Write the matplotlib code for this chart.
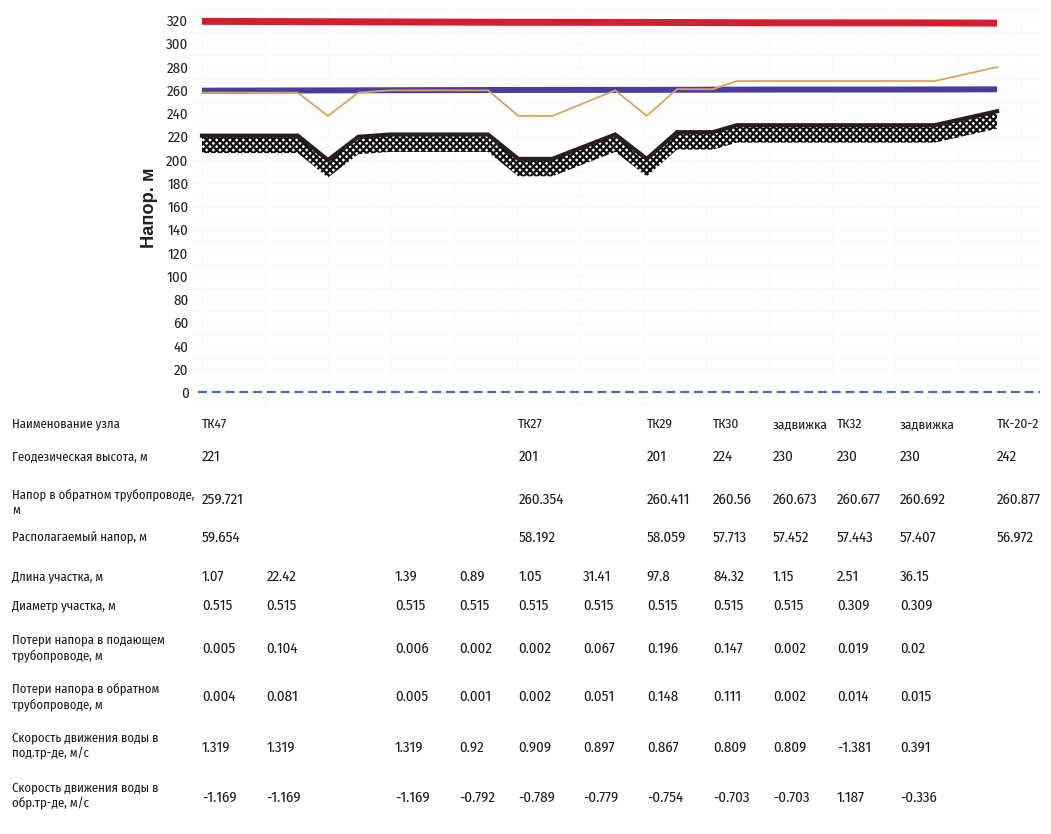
import matplotlib
matplotlib.use("Agg")
import matplotlib.pyplot as plt
import matplotlib.transforms as mtransforms
from matplotlib import font_manager
from matplotlib.ft2font import FT2Font

# ---------------- data ----------------
# profile points (x in "column units" along the route)
profile_x = [0, 1.52, 2.0, 2.48, 2.98, 4.54, 5.02, 5.56, 6.56, 7.06, 7.54, 8.11, 8.49, 11.63, 12.62]
ground_z = [221, 221, 200, 220, 222, 222, 201, 201, 222, 201, 224, 224, 230, 230, 242]
min_head = [258, 258, 238, 258, 260, 260, 238, 238, 260, 238, 261, 261, 268, 268, 280]

# nodes
node_x = [0, 5.02, 7.06, 8.11, 9.06, 10.08, 11.08, 12.62]
node_names = ["ТК47", "ТК27", "ТК29", "ТК30", "задвижка", "ТК32", "задвижка", "ТК-20-2"]
node_geo = ["221", "201", "201", "224", "230", "230", "230", "242"]
return_head = [259.721, 260.354, 260.411, 260.56, 260.673, 260.677, 260.692, 260.877]
avail_head = [59.654, 58.192, 58.059, 57.713, 57.452, 57.443, 57.407, 56.972]

# pipe sections
sect_x = [0, 1.02, 3.06, 4.08, 5.02, 6.05, 7.06, 8.11, 9.06, 10.08, 11.08]
sect_len = ["1.07", "22.42", "1.39", "0.89", "1.05", "31.41", "97.8", "84.32", "1.15", "2.51", "36.15"]
sect_diam = ["0.515", "0.515", "0.515", "0.515", "0.515", "0.515", "0.515", "0.515", "0.515", "0.309", "0.309"]
loss_supply = ["0.005", "0.104", "0.006", "0.002", "0.002", "0.067", "0.196", "0.147", "0.002", "0.019", "0.02"]
loss_return = ["0.004", "0.081", "0.005", "0.001", "0.002", "0.051", "0.148", "0.111", "0.002", "0.014", "0.015"]
vel_supply = ["1.319", "1.319", "1.319", "0.92", "0.909", "0.897", "0.867", "0.809", "0.809", "-1.381", "0.391"]
vel_return = ["-1.169", "-1.169", "-1.169", "-0.792", "-0.789", "-0.779", "-0.754", "-0.703", "-0.703", "1.187", "-0.336"]

row_labels = [
    "Наименование узла",
    "Геодезическая высота, м",
    "Напор в обратном трубопроводе,\nм",
    "Располагаемый напор, м",
    "Длина участка, м",
    "Диаметр участка, м",
    "Потери напора в подающем\nтрубопроводе, м",
    "Потери напора в обратном\nтрубопроводе, м",
    "Скорость движения воды в\nпод.тр-де, м/с",
    "Скорость движения воды в\nобр.тр-де, м/с",
]
y_ticks = list(range(0, 321, 20))

# ---------------- fonts ----------------
names = sorted({f.name for f in font_manager.fontManager.ttflist})
base_fams = [f for f in ["Liberation Sans", "DejaVu Sans"] if f in names]


def covers_cyrillic(fname):
    try:
        path = font_manager.findfont(font_manager.FontProperties(family=fname),
                                     fallback_to_default=False)
        cmap = FT2Font(path).get_charmap()
        return all(ord(c) in cmap for c in "НзвжкТК0123456789.")
    except Exception:
        return False


cond = [n for n in names if ("Narrow" in n or "Condensed" in n)
        and "Mono" not in n and "Serif" not in n and covers_cyrillic(n)]
pref = [n for n in cond if "Liberation" in n] + [n for n in cond if "Liberation" not in n]
fam = pref[:1] + base_fams
plt.rcParams["font.family"] = fam
plt.rcParams["hatch.linewidth"] = 1.6

W, H = 1051, 834
fig = plt.figure(figsize=(W / 100, H / 100), dpi=100)
renderer = fig.canvas.get_renderer()


def fit_size(sample, target_px, base=10.0, **kw):
    t = fig.text(0, 0, sample, fontsize=base, **kw)
    w = t.get_window_extent(renderer).width
    t.remove()
    return base * target_px / w


fs_lab = min(fit_size("Геодезическая высота, м", 136), 12)
fs_val = min(fit_size("259.721", 42), 12)
fs_name = min(fit_size("задвижка", 55), fit_size("ТК47", 30), 12)
fs_tick = min(fit_size("320", 21), 12)
fs_ylab = min(fit_size("Напор. м", 80, fontweight="bold", family=base_fams), 15)

ax_l, ax_r = 192, 1040
ax_t, ax_b = 9, 407
axw = ax_r - ax_l
ax = fig.add_axes([ax_l / W, 1 - ax_b / H, axw / W, (ax_b - ax_t) / H])
x0 = -(202 - ax_l) / 63
x1 = (ax_r - 202) / 63
ax.set_xlim(x0, x1)
ax.set_ylim(-12.5, 330)

for s in ax.spines.values():
    s.set_visible(False)
ax.set_xticks([])
ax.set_yticks(y_ticks)
ax.set_yticks(range(-10, 331, 10), minor=True)
ax.tick_params(axis="y", length=0, pad=2.5, labelsize=fs_tick, which="both",
               labelcolor="#222222")
ax.grid(True, axis="y", which="both", color="#ececec", lw=0.6, ls=":")
for gx in range(0, 14):
    ax.axvline(gx, color="#efefef", lw=0.6, ls=":", zorder=0)

ax.set_ylabel("Напор. м", fontsize=fs_ylab, fontweight="bold", color="#222222",
              family=base_fams)
ax.yaxis.set_label_coords(-(ax_l - 158) / axw, 0.5)

# hatched ground band
band_bottom = [z - 15 for z in ground_z]
ax.fill_between(profile_x, band_bottom, ground_z, facecolor="white",
                edgecolor="#111111", hatch="xxxxx", lw=0, zorder=2)
ax.plot(profile_x, ground_z, color="#2a1c1c", lw=3, zorder=3, solid_joinstyle="miter")

# lines
supply_head = [r + a for r, a in zip(return_head, avail_head)]
ax.plot(node_x, supply_head, color="#d21f30", lw=5, zorder=4, solid_capstyle="butt")
ax.plot(node_x, return_head, color="#4b3d9d", lw=4.3, zorder=4, solid_capstyle="butt")
ax.plot(profile_x, min_head, color="#d9a55c", lw=1.3, zorder=5)
ax.plot([-0.06, x1], [0, 0], color="#4a6ea6", lw=1.6, ls=(0, (4, 2.2)), zorder=4)

# ---------------- table ----------------
tr = mtransforms.blended_transform_factory(ax.transData, fig.transFigure)
label_y = [424, 457, 502, 538, 577, 606, 648, 697, 746, 796]
value_y = [424, 457, 500, 538, 577, 606, 649, 697, 748, 798]
for ly, lab in zip(label_y, row_labels):
    fig.text(12 / W, 1 - ly / H, lab, ha="left", va="center", fontsize=fs_lab,
             color="#1a1a1a", linespacing=1.3)


def put_row(xs, vals, ry, fs):
    for xv, v in zip(xs, vals):
        ax.text(xv, 1 - ry / H, v, transform=tr, ha="left", va="center",
                fontsize=fs, color="#1a1a1a", clip_on=False)


put_row(node_x, node_names, value_y[0], fs_name)
put_row(node_x, node_geo, value_y[1], fs_val)
put_row(node_x, [f"{v:g}" for v in return_head], value_y[2], fs_val)
put_row(node_x, [f"{v:g}" for v in avail_head], value_y[3], fs_val)
put_row(sect_x, sect_len, value_y[4], fs_val)
put_row(sect_x, sect_diam, value_y[5], fs_val)
put_row(sect_x, loss_supply, value_y[6], fs_val)
put_row(sect_x, loss_return, value_y[7], fs_val)
put_row(sect_x, vel_supply, value_y[8], fs_val)
put_row(sect_x, vel_return, value_y[9], fs_val)

fig.savefig("out.png", dpi=100)
